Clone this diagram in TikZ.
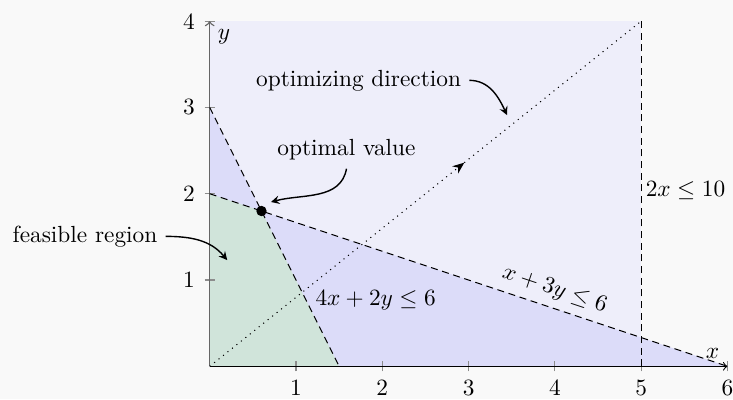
\documentclass[tikz,border=0pt]{standalone}
\usetikzlibrary{arrows.meta}
\definecolor{bgcol}{HTML}{F9F9F9}
\definecolor{lavcol}{HTML}{EEEEFA}
\definecolor{medcol}{HTML}{DCDCF9}
\definecolor{feascol}{HTML}{D0E4DA}
\tikzset{bound/.style={dash pattern=on 3pt off 2pt},
  tickmark/.style={black!45,line width=.5pt},
  note/.style={->,line width=.6pt}}
\begin{document}
\begin{tikzpicture}[x=1.3cm,y=1.3cm,line width=.45pt,>=stealth]
\useasboundingbox[fill=bgcol] (-2.43,-.379) rectangle (6.064,4.245);
\coordinate (o) at (0,0); \coordinate (xe) at (6,0); \coordinate (ye) at (0,4);
\coordinate (a2) at (0,2); \coordinate (a3) at (0,3); \coordinate (b15) at (1.5,0);
\coordinate (b5) at (5,0); \coordinate (t5) at (5,4); \coordinate (p) at (.6,1.8);
\coordinate (dm) at (2.95,2.36); \coordinate (ft) at (.203,1.231);
\coordinate (pt) at (.71,1.904); \coordinate (dt) at (3.446,2.911);
\fill[lavcol] (o) rectangle (t5);
\fill[medcol] (o)--(xe)--(a2)--cycle;
\fill[medcol] (o)--(b15)--(a3)--cycle;
\fill[feascol] (o)--(b15)--(p)--(a2)--cycle;
\foreach \i in {1,...,6}{\draw[tickmark] (\i,-.058)--(\i,.058); \node (xl\i) at (\i,-.251) {\i};}
\foreach \i in {1,...,4}{\draw[tickmark] (-.058,\i)--(.058,\i); \node (yl\i) at (-.24,\i) {\i};}
\draw[-to,black!60,line width=.6pt] (o)--(ye);
\draw[-to] (o)--(xe);
\node[above left] (xa) at (xe) {$x$}; \node[below right] (ya) at (ye) {$y$};
\draw[bound] (a3)--(b15);
\draw[bound] (a2)--(xe) node[pos=.655,above,sloped] (c2) {$x+3y\le 6$};
\draw[bound] (b5)--(t5);
\node[right,inner sep=1pt] (c3) at (5.02,2.04) {$2x\le 10$};
\node[right] (c1) at (1.13,.77) {$4x+2y\le 6$};
\draw[dotted,-{Stealth[length=5pt,width=4pt]}] (o)--(dm); \draw[dotted] (dm)--(t5);
\fill (p) circle (.06);
\node (feas) at (-1.445,1.506) {feasible region};
\node (opt) at (1.585,2.506) {optimal value};
\node (dir) at (1.725,3.314) {optimizing direction};
\draw[note] (feas.east) to[out=0,in=130] (ft);
\draw[note] (opt.south) to[out=-100,in=15] (pt);
\draw[note] (dir.east) to[out=0,in=115] (dt);
\end{tikzpicture}
\end{document}
